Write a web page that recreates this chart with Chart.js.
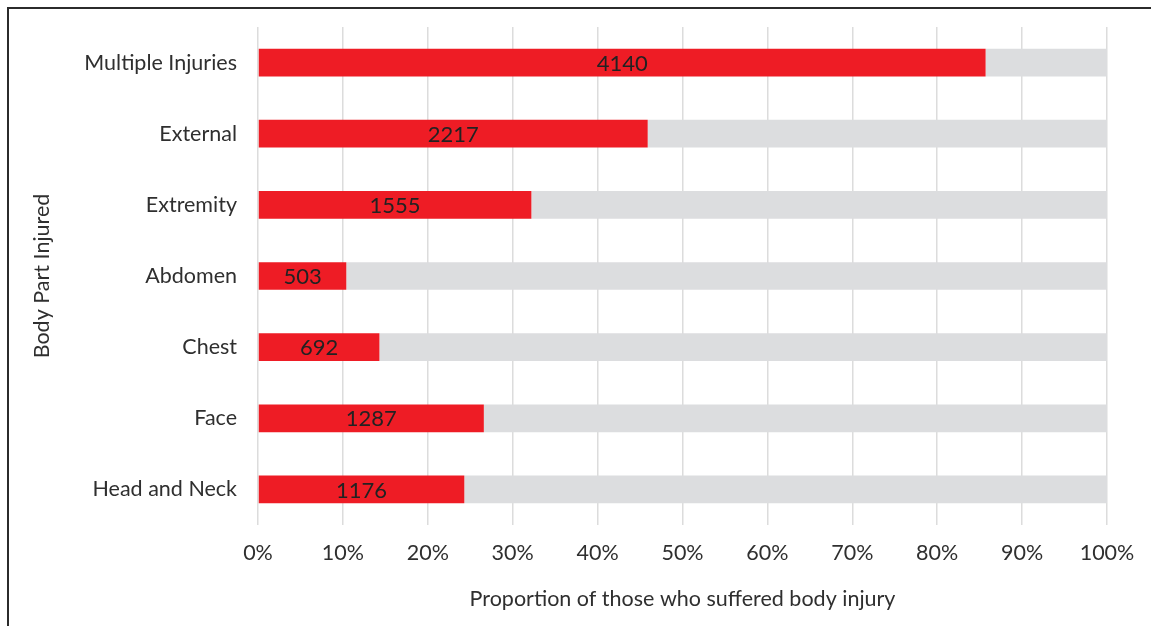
<!DOCTYPE html>
<html>
<head>
<meta charset="utf-8">
<script src="https://cdn.jsdelivr.net/npm/chart.js@4"></script>
<style>
  html, body { margin: 0; padding: 0; background: #fff; }
  #wrap { position: relative; width: 1151px; height: 626px; overflow: hidden; }
  #frame { position: absolute; left: 7px; top: 7px; width: 1200px; height: 700px;
           border-top: 2px solid #2b2b2b; border-left: 2px solid #2b2b2b; }
  canvas { position: absolute; left: 0; top: 0; }
</style>
</head>
<body>
<div id="wrap">
  <div id="frame"></div>
  <canvas id="chart" width="1151" height="626"></canvas>
</div>
<script>
// categorias y valores
const categories = ['Multiple Injuries', 'External', 'Extremity', 'Abdomen', 'Chest', 'Face', 'Head and Neck'];
const injuredPct = [85.7, 45.9, 32.2, 10.4, 14.3, 26.6, 24.3];
const injuredCount = [4140, 2217, 1555, 503, 692, 1287, 1176];
const restPct = injuredPct.map(v => 100 - v);
const xTicks = [0, 10, 20, 30, 40, 50, 60, 70, 80, 90, 100];

const fontFamily = 'Lato, "Open Sans", sans-serif';
const textColor = '#2f2f2f';
const fontSize = 21.5;

// etiquetas con el numero dentro de la barra roja
const countLabels = {
  id: 'countLabels',
  afterDatasetsDraw(chart) {
    const ctx = chart.ctx;
    const meta = chart.getDatasetMeta(0);
    ctx.save();
    ctx.font = '22px ' + fontFamily;
    ctx.fillStyle = '#222';
    ctx.textAlign = 'center';
    ctx.textBaseline = 'middle';
    meta.data.forEach((bar, i) => {
      const x = (bar.x + bar.base) / 2;
      ctx.fillText(String(injuredCount[i]), x, bar.y + 1);
    });
    ctx.restore();
  }
};

const ctx = document.getElementById('chart').getContext('2d');
new Chart(ctx, {
  type: 'bar',
  data: {
    labels: categories,
    datasets: [
      { label: 'Injured', data: injuredPct, backgroundColor: '#ee1c25', barPercentage: 0.39, categoryPercentage: 1 },
      { label: 'Rest', data: restPct, backgroundColor: '#dcdddf', barPercentage: 0.39, categoryPercentage: 1 }
    ]
  },
  options: {
    indexAxis: 'y',
    responsive: false,
    animation: false,
    layout: { padding: { left: 0, right: 44, top: 27, bottom: 0 } },
    plugins: { legend: { display: false }, tooltip: { enabled: false } },
    scales: {
      x: {
        stacked: true,
        min: 0,
        max: 100,
        afterBuildTicks: (scale) => { scale.ticks = xTicks.map(v => ({ value: v })); },
        afterFit: (scale) => { scale.height = 101; },
        grid: { color: '#dcdcdc', lineWidth: 1.5, drawTicks: false },
        border: { display: false },
        ticks: {
          padding: 15,
          color: textColor,
          font: { family: fontFamily, size: fontSize }
          , callback: (v) => v + '%'
        },
        title: {
          display: true,
          text: 'Proportion of those who suffered body injury',
          color: textColor,
          font: { family: fontFamily, size: fontSize },
          padding: { top: 0, bottom: 14 }
        }
      },
      y: {
        stacked: true,
        afterFit: (scale) => {
          scale.width = 258;
          scale.paddingTop = 0;
          scale.paddingBottom = 0;
        },
        grid: { display: false, drawTicks: false },
        border: { display: false },
        ticks: {
          padding: 21,
          color: textColor,
          font: { family: fontFamily, size: fontSize }
        },
        title: {
          display: true,
          text: 'Body Part Injured',
          color: textColor,
          font: { family: fontFamily, size: fontSize },
          padding: { top: 29, bottom: 0 }
        }
      }
    }
  },
  plugins: [countLabels]
});
</script>
</body>
</html>
